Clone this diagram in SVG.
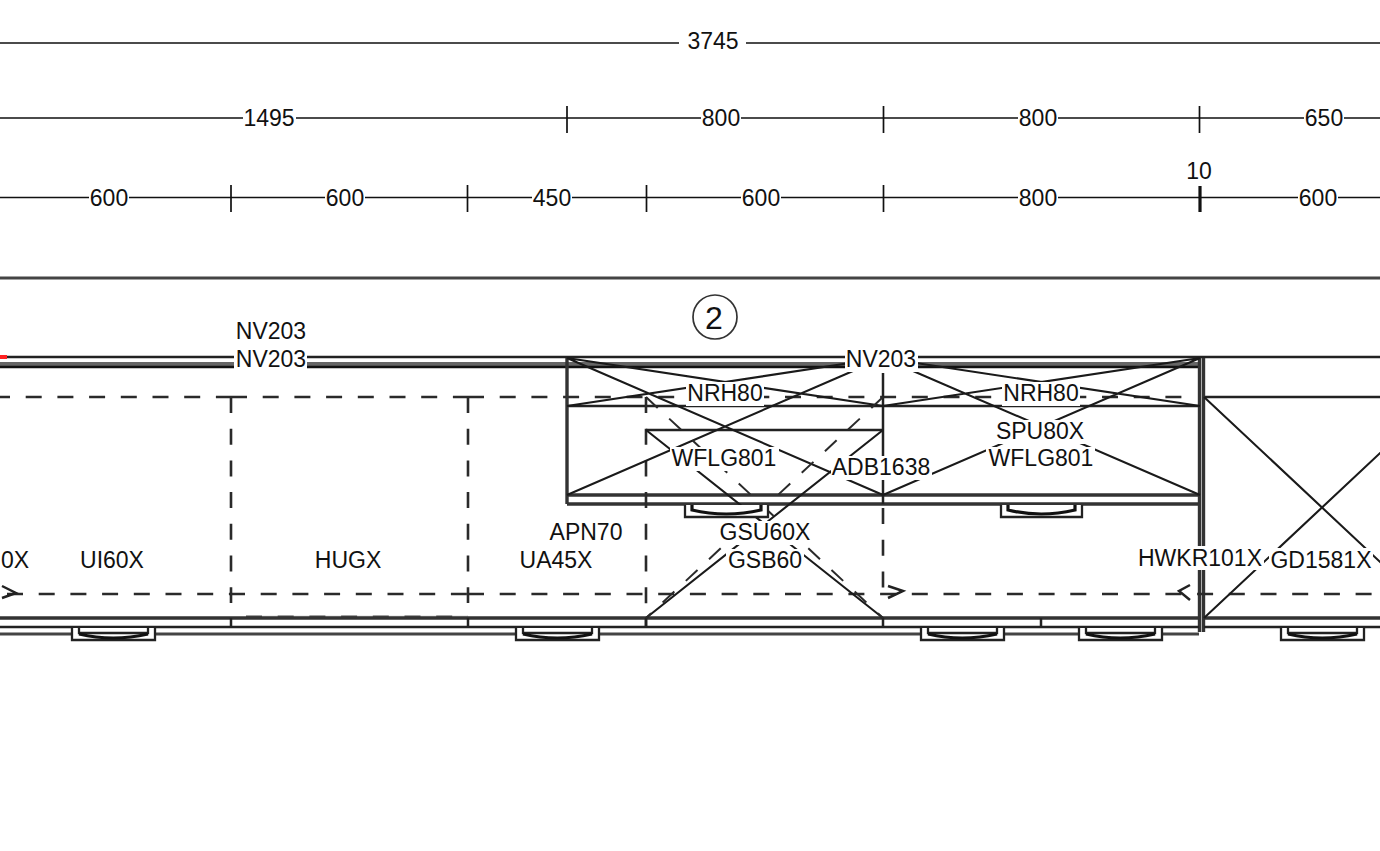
<svg xmlns="http://www.w3.org/2000/svg" width="1380" height="851" viewBox="0 0 1380 851">
<style>
text{font-family:"Liberation Sans",Arial,sans-serif;font-size:23px;fill:#111;text-anchor:middle}
.l{stroke:#111;stroke-width:1.7;fill:none}
.m{stroke:#222;stroke-width:2.5;fill:none}
.t{stroke:#333;stroke-width:3.4;fill:none}
.x{stroke:#1a1a1a;stroke-width:2.1;fill:none}
.d{stroke:#2a2a2a;stroke-width:2.6;fill:none;stroke-dasharray:16 15.7}
.w{fill:#fff}
.h{stroke:#222;stroke-width:2.3;fill:#fff}
.c{stroke:#111;stroke-width:3.2;fill:none}
</style>
<rect width="1380" height="851" fill="#fff"/>
<g id="connectors">
<path class="l" d="M0 43H1380M0 118H1380M0 197.500H1380"/>
<path class="l" d="M567 106V133M883.500 106V133M1199.500 106V133M231 185V212M467.500 185V212M646.500 185V212M883.500 185V212"/>
<path d="M1200 186V212" stroke="#111" stroke-width="3.2"/>
<path class="t" d="M0 278H1380" style="stroke:#444;stroke-width:3"/>
<path class="m" d="M0 357H1380"/>
<path d="M0 364H1200" stroke="#666" stroke-width="4"/>
<path d="M0 367H1200" stroke="#111" stroke-width="2.4"/>
<path d="M0 357H7" stroke="#f22" stroke-width="4"/>
<path class="d" d="M-6 397H232M231 397H469M468 397H1190"/>
<path class="m" d="M1204 397H1380"/>
<path class="m" d="M567 406H1200"/>
<path class="t" d="M567 495H1200M567 504H1200"/>
<path class="t" d="M567 358V504"/>
<path class="t" d="M1199.500 358V632M1203.500 358V632"/>
<path class="m" d="M646 430H883"/>
<path class="d" d="M231 397V603M468 397V603M646 397V627"/>
<path class="d" d="M883 508V603"/>
<path class="m" d="M883 373V504"/>
<path class="d" d="M7 594H246M229 594H469M468 594H1380"/>
<path d="M246 616.500H468" stroke="#ddd" stroke-width="2"/>
<path d="M246 616.500H468" stroke="#555" stroke-width="2" stroke-dasharray="16 15.700"/>
<path class="t" d="M0 618H1199M1204 618H1380"/>
<path class="m" d="M0 627H1199M1204 627H1380"/>
<path d="M0 634H1199" stroke="#444" stroke-width="3"/>
<path class="m" d="M231 618V627M468 618V627M646 618V627M883 618V627M1041 618V627"/>
<path class="m" d="M2 586L16 593L2 598M888 586L903 591L888 598M1190 585L1179 591L1190 600"/>
<path class="x" d="M567 358L883 495M883 358L567 495M567 358L883 406M883 358L567 406M883 358L1200 495M1200 358L883 495M883 358L1200 406M1200 358L883 406"/>
<path class="x" d="M646 430L883 618M883 430L646 618"/>
<path class="d" style="stroke-width:2" d="M646 397L883 618M883 397L646 618"/>
<path class="x" d="M1204 397L1440 618M1204 618L1440 397"/>
</g>
<g id="handles">
<path class="h" d="M72 628V640H155V628"/><path class="h" d="M79 628V633H148V628"/><path class="c" d="M79 634Q113 642 148 634"/>
<path class="h" d="M516 628V640H599V628"/><path class="h" d="M523 628V633H592V628"/><path class="c" d="M523 634Q557 642 592 634"/>
<path class="h" d="M921 628V640H1004V628"/><path class="h" d="M928 628V633H997V628"/><path class="c" d="M928 634Q962 642 997 634"/>
<path class="h" d="M1079 628V640H1162V628"/><path class="h" d="M1086 628V633H1155V628"/><path class="c" d="M1086 634Q1120 642 1155 634"/>
<path class="h" d="M1281 628V640H1364V628"/><path class="h" d="M1288 628V633H1357V628"/><path class="c" d="M1288 634Q1322 642 1357 634"/>
<path class="h" d="M685 505V517H768V505"/><path class="c" d="M692 505V510Q726 518 761 510V505"/>
<path class="h" d="M1001 505V517H1082V505"/><path class="c" d="M1008 505V510Q1041 518 1075 510V505"/>
</g>
<g id="labels">
<circle cx="715" cy="317" r="22" fill="#fff" stroke="#333" stroke-width="1.7"/>
<text x="714" y="329" style="font-size:32px">2</text>
<rect class="w" x="679" y="30" width="67" height="24"/><text x="713" y="49">3745</text>
<rect class="w" x="243" y="108" width="53" height="22"/><text x="269" y="126">1495</text>
<rect class="w" x="701" y="108" width="40" height="22"/><text x="721" y="126">800</text>
<rect class="w" x="1018" y="108" width="40" height="22"/><text x="1038" y="126">800</text>
<rect class="w" x="1304" y="108" width="40" height="22"/><text x="1324" y="126">650</text>
<rect class="w" x="89" y="187" width="40" height="22"/><text x="109" y="206">600</text>
<rect class="w" x="325" y="187" width="40" height="22"/><text x="345" y="206">600</text>
<rect class="w" x="532" y="187" width="40" height="22"/><text x="552" y="206">450</text>
<rect class="w" x="741" y="187" width="40" height="22"/><text x="761" y="206">600</text>
<rect class="w" x="1018" y="187" width="40" height="22"/><text x="1038" y="206">800</text>
<rect class="w" x="1298" y="187" width="40" height="22"/><text x="1318" y="206">600</text>
<text x="1199" y="179">10</text>
<text x="271" y="339">NV203</text>
<rect class="w" x="234" y="350" width="73" height="22"/><text x="271" y="367">NV203</text>
<rect class="w" x="845" y="348" width="73" height="24"/><text x="881" y="367">NV203</text>
<rect class="w" x="686" y="382" width="78" height="24"/><text x="725" y="401">NRH80</text>
<rect class="w" x="1002" y="382" width="78" height="24"/><text x="1041" y="401">NRH80</text>
<rect class="w" x="994" y="420" width="92" height="24"/><text x="1040" y="439">SPU80X</text>
<rect class="w" x="986" y="447" width="109" height="24"/><text x="1041" y="466">WFLG801</text>
<rect class="w" x="670" y="447" width="109" height="24"/><text x="724" y="466">WFLG801</text>
<rect class="w" x="831" y="456" width="101" height="24"/><text x="881" y="475">ADB1638</text>
<text x="586" y="540">APN70</text>
<rect class="w" x="717" y="521" width="95" height="24"/><text x="765" y="540">GSU60X</text>
<rect class="w" x="726" y="549" width="78" height="24"/><text x="765" y="568">GSB60</text>
<text x="15" y="568">0X</text>
<text x="112" y="568">UI60X</text>
<text x="348" y="568">HUGX</text>
<text x="556" y="568">UA45X</text>
<rect class="w" x="1135" y="546" width="129" height="24"/><text x="1200" y="566">HWKR101X</text>
<rect class="w" x="1269" y="548" width="104" height="24"/><text x="1321" y="568">GD1581X</text>
</g>
</svg>
